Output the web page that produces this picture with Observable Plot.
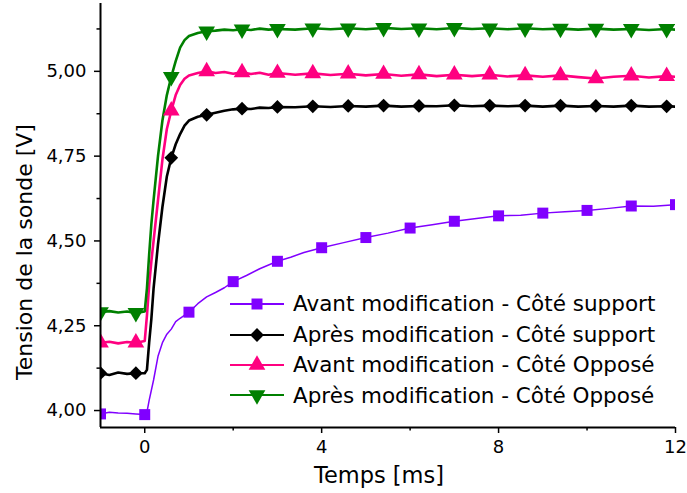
<!DOCTYPE html>
<html><head><meta charset="utf-8">
<script src="https://cdn.jsdelivr.net/npm/d3@7"></script>
<script src="https://cdn.jsdelivr.net/npm/@observablehq/plot@0.6"></script>
<style>
body{margin:0;background:#fff;}
#wrap{position:relative;width:687px;height:493px;font-family:"DejaVu Sans",sans-serif;color:#000;overflow:hidden;}
#ylab{position:absolute;left:25px;top:252px;transform:translate(-50%,-50%) rotate(-90deg);font-size:22px;line-height:1;white-space:nowrap;}
#xlab{position:absolute;left:379px;top:464px;transform:translateX(-50%);font-size:22.5px;line-height:1;white-space:nowrap;}
#legend{position:absolute;left:230px;top:289px;}
.row{display:flex;align-items:center;height:30.4px;}
.row svg{width:54px;height:30px;margin-right:9px;overflow:visible;}
.row span{font-size:21.5px;line-height:1;white-space:nowrap;}
</style>
</head><body>
<div id="wrap">
  <div id="chart"></div>
  <div id="ylab">Tension de la sonde [V]</div>
  <div id="xlab">Temps [ms]</div>
  <div id="legend"></div>
</div>
<script>
// ---- axes ----
const xDomain = [-1, 12];
const yDomain = [3.95, 5.2];
const xTicks = [0, 4, 8, 12];
const xTickLabels = ["0", "4", "8", "12"];
const xMinorTicks = [2, 6, 10];
const yTicks = [4.0, 4.25, 4.5, 4.75, 5.0];
const yTickLabels = ["4,00", "4,25", "4,50", "4,75", "5,00"];
const yMinorTicks = [4.125, 4.375, 4.625, 4.875, 5.125];

// ---- series names / colours ----
const seriesNames = [
  "Avant modification - Côté support",
  "Après modification - Côté support",
  "Avant modification - Côté Opposé",
  "Après modification - Côté Opposé"
];
const seriesColors = ["#8000ff", "#000000", "#ff0080", "#008000"];

// ---- time bases (ms) ----
const tPurple = [-1,-0.8,-0.6,-0.4,-0.2,0,0.05,0.1,0.2,0.3,0.4,0.5,0.6,0.7,0.8,1.0,1.2,1.4,1.6,1.8,2.0,2.3,2.6,3.0,3.3,3.6,4.0,4.5,5.0,5.5,6.0,6.5,7.0,7.5,8.0,8.5,9.0,9.5,10.0,10.5,11.0,11.5,12];
const tOthers = [-1,-0.8,-0.6,-0.4,-0.2,0,0.05,0.1,0.15,0.2,0.3,0.4,0.5,0.6,0.7,0.8,0.9,1.0,1.2,1.4,1.6,1.8,2.0,2.2,2.4,2.6,2.8,3.0,3.4,3.8,4.2,4.6,5.0,5.4,5.8,6.2,6.6,7.0,7.4,7.8,8.2,8.6,9.0,9.4,9.8,10.2,10.6,11.0,11.4,11.8,12];

// ---- values (V) ----
const avantSupport = [3.99,3.995,3.993,3.992,3.99,3.988,3.995,4.03,4.09,4.16,4.2,4.225,4.24,4.262,4.272,4.29,4.315,4.335,4.348,4.362,4.38,4.398,4.418,4.44,4.452,4.466,4.48,4.495,4.51,4.523,4.538,4.548,4.558,4.566,4.574,4.576,4.582,4.586,4.59,4.596,4.603,4.602,4.607];
const apresSupport = [4.11,4.105,4.112,4.108,4.11,4.11,4.12,4.2,4.27,4.36,4.49,4.6,4.69,4.745,4.785,4.815,4.84,4.855,4.866,4.872,4.878,4.884,4.888,4.89,4.889,4.893,4.892,4.895,4.894,4.897,4.895,4.898,4.896,4.899,4.896,4.898,4.897,4.9,4.897,4.899,4.897,4.899,4.896,4.899,4.896,4.898,4.896,4.899,4.896,4.897,4.896];
const avantOppose = [4.2,4.203,4.198,4.202,4.2,4.205,4.28,4.37,4.44,4.5,4.62,4.74,4.83,4.884,4.93,4.96,4.978,4.988,4.995,5.0,4.995,4.998,4.993,4.997,4.992,4.996,4.99,4.995,4.99,4.994,4.989,4.993,4.988,4.992,4.987,4.991,4.986,4.99,4.986,4.99,4.985,4.988,4.984,4.988,4.983,4.979,4.984,4.987,4.982,4.986,4.984];
const apresOppose = [4.29,4.293,4.289,4.292,4.288,4.292,4.36,4.46,4.55,4.62,4.75,4.855,4.93,4.984,5.03,5.07,5.092,5.104,5.113,5.118,5.12,5.123,5.121,5.124,5.122,5.126,5.123,5.125,5.123,5.127,5.124,5.127,5.124,5.128,5.125,5.127,5.124,5.128,5.125,5.127,5.124,5.127,5.124,5.126,5.123,5.126,5.123,5.125,5.122,5.125,5.123];

// ---- marker times ----
const markersPurple = [-1,0,1,2,3,4,5,6,7,8,9,10,11,12];
const markersOthers = [-1,-0.2,0.6,1.4,2.2,3.0,3.8,4.6,5.4,6.2,7.0,7.8,8.6,9.4,10.2,11.0,11.8];

const triangleDown = {
  draw(ctx, size) {
    const y = Math.sqrt(size / (3 * Math.sqrt(3)));
    ctx.moveTo(0, 2 * y);
    ctx.lineTo(-Math.sqrt(3) * y, -y);
    ctx.lineTo(Math.sqrt(3) * y, -y);
    ctx.closePath();
  }
};
const symbols = [d3.symbolSquare, d3.symbolDiamond2, d3.symbolTriangle, triangleDown];
const plotSymbols = ["square", "diamond2", "triangle", triangleDown];
const widths = [1.5, 2.6, 2.6, 2.6];

const series = [
  {t: tPurple, v: avantSupport, m: markersPurple},
  {t: tOthers, v: apresSupport, m: markersOthers},
  {t: tOthers, v: avantOppose, m: markersOthers},
  {t: tOthers, v: apresOppose, m: markersOthers}
].map((s, i) => {
  const rows = s.t.map((t, j) => ({t, v: s.v[j]}));
  const marks = rows.filter(r => s.m.some(m => Math.abs(m - r.t) < 1e-9));
  return {rows, marks, i};
});

const marks = [];
for (const s of series) {
  marks.push(Plot.line(s.rows, {x: "t", y: "v", stroke: seriesColors[s.i], strokeWidth: widths[s.i], clip: true}));
}
for (const s of series) {
  marks.push(Plot.dot(s.marks, {x: "t", y: "v", symbol: plotSymbols[s.i], fill: seriesColors[s.i], r: 6.2, clip: true}));
}
marks.push(
  Plot.axisY({ticks: yTicks, tickFormat: d => yTickLabels[yTicks.indexOf(d)], tickSize: 6, tickPadding: 8, strokeWidth: 1.5, label: null, fontSize: 18}),
  Plot.axisY({ticks: yMinorTicks, tickFormat: () => "", tickSize: 3.5, strokeWidth: 1.5, label: null}),
  Plot.axisX({ticks: xTicks, tickFormat: d => xTickLabels[xTicks.indexOf(d)], tickSize: 6, tickPadding: 7, strokeWidth: 1.5, label: null, fontSize: 18}),
  Plot.axisX({ticks: xMinorTicks, tickFormat: () => "", tickSize: 3.5, strokeWidth: 1.5, label: null}),
  Plot.ruleX([xDomain[0]], {strokeWidth: 2}),
  Plot.ruleY([yDomain[0]], {strokeWidth: 2})
);

const chart = Plot.plot({
  width: 687,
  height: 493,
  marginLeft: 100,
  marginRight: 12,
  marginTop: 3,
  marginBottom: 66,
  x: {domain: xDomain},
  y: {domain: yDomain},
  style: {fontFamily: "DejaVu Sans, sans-serif", fontSize: "18px", color: "#000", background: "#fff"},
  marks
});
document.getElementById("chart").appendChild(chart);

// ---- legend ----
const legend = d3.select("#legend");
seriesNames.forEach((name, i) => {
  const row = legend.append("div").attr("class", "row");
  const svg = row.append("svg").attr("viewBox", "0 0 54 30");
  svg.append("line").attr("x1", 0).attr("x2", 54).attr("y1", 15).attr("y2", 15)
    .attr("stroke", seriesColors[i]).attr("stroke-width", 2);
  svg.append("path").attr("transform", "translate(27,15)")
    .attr("d", d3.symbol(symbols[i], Math.PI * 6.2 * 6.2)())
    .attr("fill", seriesColors[i]);
  row.append("span").text(name);
});
</script>
</body></html>
